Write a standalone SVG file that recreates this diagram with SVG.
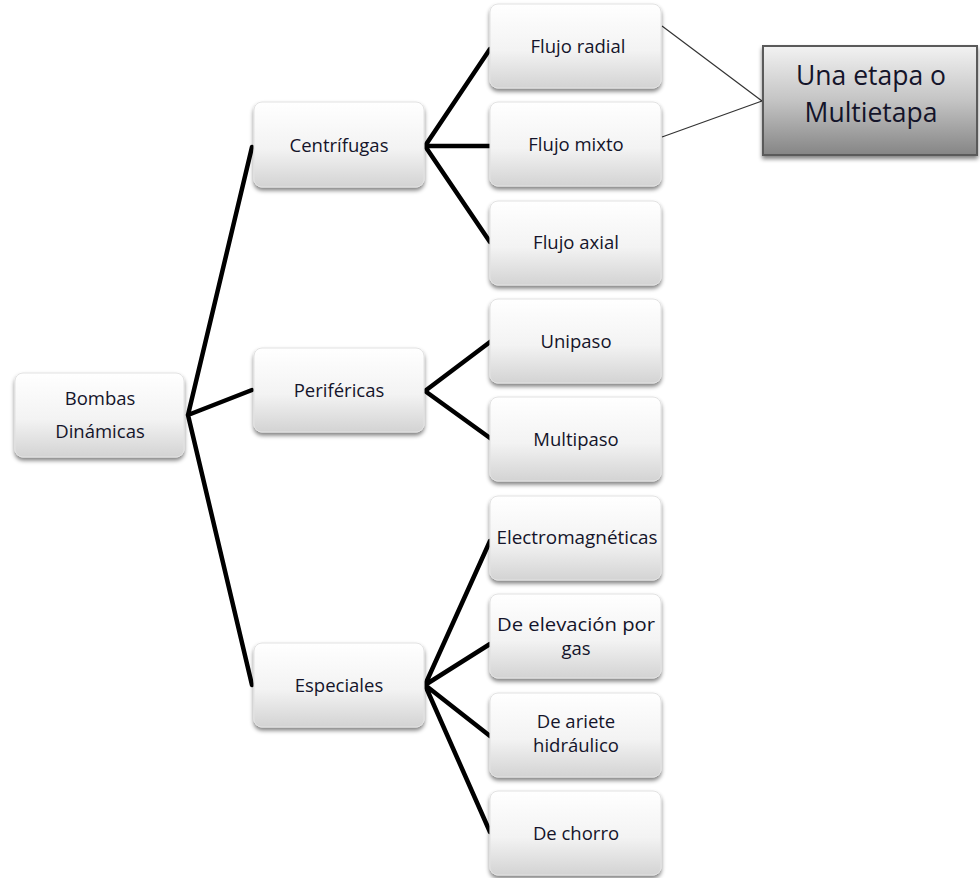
<svg xmlns="http://www.w3.org/2000/svg" width="980" height="878" viewBox="0 0 980 878">
  <defs>
    <linearGradient id="nodeFill" x1="0" y1="0" x2="0" y2="1">
      <stop offset="0" stop-color="#ffffff"/>
      <stop offset="0.55" stop-color="#f3f3f3"/>
      <stop offset="1" stop-color="#d3d3d3"/>
    </linearGradient>
    <linearGradient id="noteFill" x1="0" y1="0" x2="0" y2="1">
      <stop offset="0" stop-color="#f2f2f2"/>
      <stop offset="0.5" stop-color="#c4c4c4"/>
      <stop offset="1" stop-color="#858585"/>
    </linearGradient>
    <filter id="drop" x="-10%" y="-10%" width="125%" height="130%">
      <feGaussianBlur in="SourceAlpha" stdDeviation="2"/>
      <feOffset dx="0" dy="3" result="b"/>
      <feComponentTransfer><feFuncA type="linear" slope="0.5"/></feComponentTransfer>
      <feMerge><feMergeNode/><feMergeNode in="SourceGraphic"/></feMerge>
    </filter>
  </defs>
  <style>
    .box { fill: url(#nodeFill); stroke: #e2e2e2; stroke-width: 1; filter: url(#drop); }
    .note { fill: url(#noteFill); stroke: #5a5a5a; stroke-width: 2; filter: url(#drop); }
    .lbl { font-family: "Open Sans", "Liberation Sans", sans-serif; font-size: 18.5px; fill: #14142a; text-anchor: middle; }
    .big { font-family: "Open Sans", "Liberation Sans", sans-serif; font-size: 26.5px; fill: #14142a; text-anchor: middle; }
    .wire { stroke: #000; stroke-width: 4.5; fill: none; stroke-linecap: round; }
    .thin { stroke: #333; stroke-width: 1.2; fill: none; }
  </style>
  <rect width="980" height="878" fill="#ffffff"/>

  <g id="connectors">
    <path class="wire" d="M188 415 L252 147 M188 415 L252 390 M188 415 L252 685"/>
    <path class="wire" d="M425 146 L490 49 M425 146 L490 146 M425 146 L490 242"/>
    <path class="wire" d="M425 391 L490 342 M425 391 L490 438"/>
    <path class="wire" d="M425 685 L490 541 M425 685 L490 644 M425 685 L490 736 M425 685 L490 832"/>
    <path class="thin" d="M662 26 L762 101 M662 137 L762 101"/>
  </g>

  <g id="n-bombas">
    <rect class="box" x="15" y="373" width="169" height="84" rx="8"/>
    <text class="lbl" x="100" y="405">Bombas</text>
    <text class="lbl" x="100" y="438">Dinámicas</text>
  </g>

  <g id="n-centrifugas">
    <rect class="box" x="254" y="102" width="170" height="85" rx="8"/>
    <text class="lbl" x="339" y="152">Centrífugas</text>
  </g>
  <g id="n-perifericas">
    <rect class="box" x="254" y="348" width="170" height="84" rx="8"/>
    <text class="lbl" x="339" y="397">Periféricas</text>
  </g>
  <g id="n-especiales">
    <rect class="box" x="254" y="643" width="170" height="84" rx="8"/>
    <text class="lbl" x="339" y="692">Especiales</text>
  </g>

  <g id="n-flujo-radial">
    <rect class="box" x="490" y="4" width="171" height="84" rx="8"/>
    <text class="lbl" x="578" y="53">Flujo radial</text>
  </g>
  <g id="n-flujo-mixto">
    <rect class="box" x="490" y="102" width="171" height="84" rx="8"/>
    <text class="lbl" x="576" y="151">Flujo mixto</text>
  </g>
  <g id="n-flujo-axial">
    <rect class="box" x="490" y="201" width="171" height="84" rx="8"/>
    <text class="lbl" x="576" y="249">Flujo axial</text>
  </g>
  <g id="n-unipaso">
    <rect class="box" x="490" y="299" width="171" height="84" rx="8"/>
    <text class="lbl" x="576" y="348">Unipaso</text>
  </g>
  <g id="n-multipaso">
    <rect class="box" x="490" y="397" width="171" height="84" rx="8"/>
    <text class="lbl" x="576" y="446">Multipaso</text>
  </g>
  <g id="n-electromagneticas">
    <rect class="box" x="490" y="496" width="171" height="84" rx="8"/>
    <text class="lbl" x="577" y="544" textLength="161" lengthAdjust="spacingAndGlyphs">Electromagnéticas</text>
  </g>
  <g id="n-elevacion">
    <rect class="box" x="490" y="594" width="171" height="84" rx="8"/>
    <text class="lbl" x="576" y="631" textLength="158" lengthAdjust="spacingAndGlyphs">De elevación por</text>
    <text class="lbl" x="576" y="655">gas</text>
  </g>
  <g id="n-ariete">
    <rect class="box" x="490" y="693" width="171" height="84" rx="8"/>
    <text class="lbl" x="576" y="728">De ariete</text>
    <text class="lbl" x="576" y="752">hidráulico</text>
  </g>
  <g id="n-chorro">
    <rect class="box" x="490" y="791" width="171" height="84" rx="8"/>
    <text class="lbl" x="576" y="840">De chorro</text>
  </g>

  <g id="n-etapas">
    <rect class="note" x="763" y="46" width="214" height="109"/>
    <text class="big" x="871" y="85">Una etapa o</text>
    <text class="big" x="871" y="122">Multietapa</text>
  </g>
</svg>
